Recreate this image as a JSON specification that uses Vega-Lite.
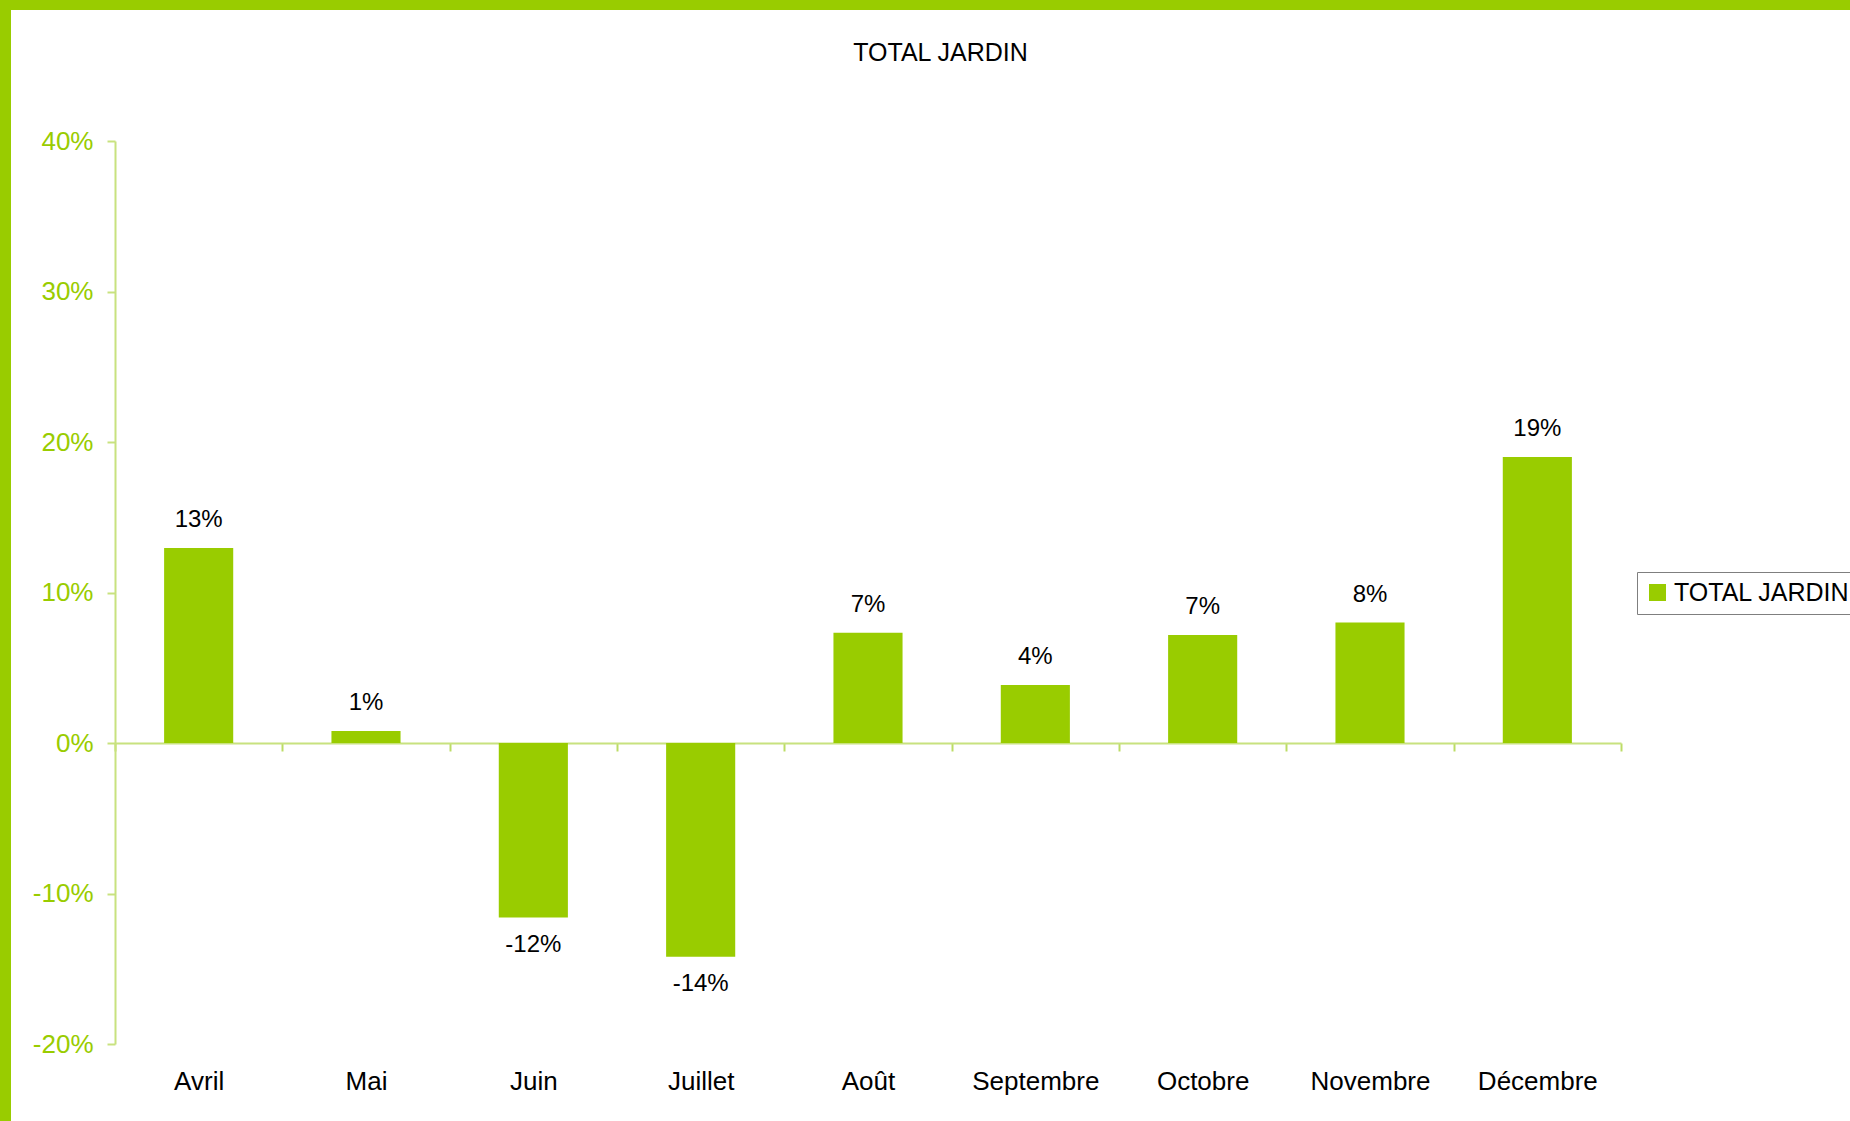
{
  "$schema": "https://vega.github.io/schema/vega-lite/v6.json",
  "width": 1839,
  "height": 1111,
  "autosize": {"type": "none"},
  "padding": {"left": 11, "top": 10, "right": 0, "bottom": 0},
  "background": "#99cc00",
  "title": {"text": "TOTAL JARDIN", "anchor": "middle", "frame": "group", "offset": -76, "baseline": "alphabetic", "dx": 10, "fontSize": 25, "font": "Liberation Sans", "fontWeight": "normal", "color": "#000000"},
  "data": {"values": [
    {"mois": "Avril", "valeur": 0.1296, "serie": "TOTAL JARDIN"},
    {"mois": "Mai", "valeur": 0.008, "serie": "TOTAL JARDIN"},
    {"mois": "Juin", "valeur": -0.116, "serie": "TOTAL JARDIN"},
    {"mois": "Juillet", "valeur": -0.142, "serie": "TOTAL JARDIN"},
    {"mois": "Août", "valeur": 0.0733, "serie": "TOTAL JARDIN"},
    {"mois": "Septembre", "valeur": 0.0385, "serie": "TOTAL JARDIN"},
    {"mois": "Octobre", "valeur": 0.0718, "serie": "TOTAL JARDIN"},
    {"mois": "Novembre", "valeur": 0.08, "serie": "TOTAL JARDIN"},
    {"mois": "Décembre", "valeur": 0.19, "serie": "TOTAL JARDIN"}
  ]},
  "encoding": {
    "x": {
      "field": "mois", "type": "nominal", "sort": null,
      "scale": {"range": [104, 1610], "paddingInner": 0, "paddingOuter": 0},
      "axis": {
        "title": null, "orient": "bottom", "offset": -378, "labelAngle": 0,
        "labelFont": "Liberation Sans", "labelFontSize": 26, "labelColor": "#000000",
        "labelBaseline": "alphabetic", "labelPadding": 338,
        "tickBand": "extent", "tickSize": 8, "tickColor": "#bcdc66", "tickWidth": 2,
        "domainColor": "#c8e27f", "domainWidth": 2, "grid": false
      }
    },
    "y": {
      "field": "valeur", "type": "quantitative",
      "scale": {"domain": [-0.2, 0.4], "range": [1034, 131], "nice": false},
      "axis": {
        "title": null, "orient": "left", "offset": -104,
        "values": [-0.2, -0.1, 0, 0.1, 0.2, 0.3, 0.4], "format": ".0%",
        "labelFont": "Liberation Sans", "labelFontSize": 26, "labelColor": "#99cc00",
        "labelPadding": 14, "tickSize": 8, "tickColor": "#c8e27f", "tickWidth": 2,
        "domainColor": "#c8e27f", "domainWidth": 2, "grid": false
      }
    }
  },
  "layer": [
    {
      "mark": {"type": "bar", "width": {"band": 0.413}},
      "encoding": {
        "color": {
          "field": "serie", "type": "nominal",
          "scale": {"range": ["#99cc00"]},
          "legend": {
            "title": null, "orient": "none", "legendX": 1626, "legendY": 562,
            "direction": "vertical", "symbolType": "square", "symbolSize": 289,
            "symbolStrokeWidth": 0, "labelFontSize": 25, "labelFont": "Liberation Sans",
            "labelColor": "#000000", "labelLimit": 600, "strokeColor": "#7f7f7f", "fillColor": "#ffffff",
            "padding": 8, "labelOffset": 4
          }
        }
      }
    },
    {
      "transform": [{"filter": "datum.valeur >= 0"}],
      "mark": {"type": "text", "dy": -21, "baseline": "alphabetic", "align": "center", "font": "Liberation Sans", "fontSize": 24, "color": "#000000"},
      "encoding": {"text": {"field": "valeur", "type": "quantitative", "format": ".0%"}}
    },
    {
      "transform": [{"filter": "datum.valeur < 0"}],
      "mark": {"type": "text", "dy": 34, "baseline": "alphabetic", "align": "center", "font": "Liberation Sans", "fontSize": 24, "color": "#000000"},
      "encoding": {"text": {"field": "valeur", "type": "quantitative", "format": ".0%"}}
    }
  ],
  "config": {
    "view": {"fill": "#ffffff", "stroke": null},
    "locale": {"number": {"decimal": ".", "thousands": ",", "grouping": [3], "currency": ["", "€"], "minus": "-", "percent": "%"}}
  }
}
